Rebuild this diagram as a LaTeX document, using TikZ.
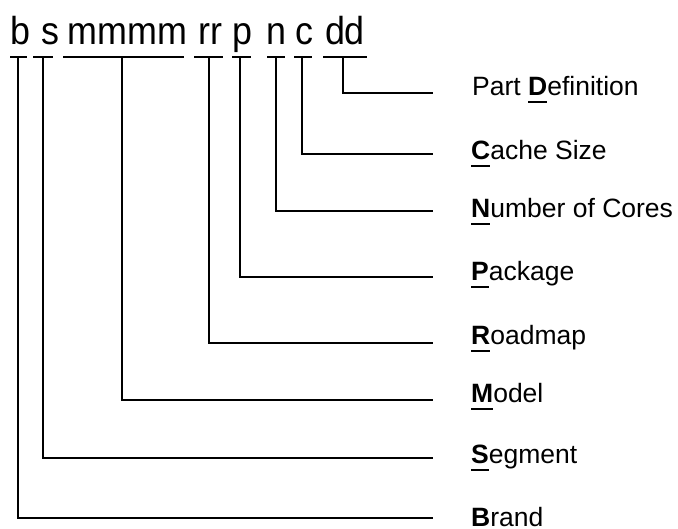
\documentclass[tikz,border=0pt]{standalone}
\usepackage{fontspec}
\setmainfont{Liberation Sans}
\newfontfamily\codefont[FakeStretch=0.92]{Liberation Sans}
\newcommand\ukey[1]{\setbox0\hbox{\bfseries #1}\rlap{\rule[-7.3pt]{\wd0}{2.4pt}}\box0}
\begin{document}
\begin{tikzpicture}[x=1pt,y=-1pt,
  code/.style={font=\codefont\fontsize{39}{42}\selectfont, inner sep=0pt, anchor=base},
  lab/.style={font=\fontsize{26.5}{30}\selectfont, inner sep=0pt, anchor=base west},
  bar/.style={line width=1.7pt},
  conn/.style={line width=1.7pt}]
\useasboundingbox (0,0) rectangle (678,529);
% top code string
\node[code] (tb) at (20.5,45) {b};
\node[code] (ts) at (50,45) {s};
\node[code] (tm) at (127.5,45) {mmmm};
\node[code] (tr) at (210.5,45) {rr};
\node[code] (tp) at (242.5,45) {p};
\node[code] (tn) at (276.5,45) {n};
\node[code] (tc) at (304,45) {c};
\node[code] (td) at (345,45) {dd};
% underline bars
\draw[bar] (10,57) -- (27,57);
\draw[bar] (33,57) -- (53,57);
\draw[bar] (63,57) -- (184,57);
\draw[bar] (194,57) -- (223,57);
\draw[bar] (232,57) -- (251,57);
\draw[bar] (267,57) -- (285,57);
\draw[bar] (294,57) -- (312,57);
\draw[bar] (323,57) -- (367,57);
% start and end coordinates
\coordinate (ub) at (18,57);   \coordinate (eb) at (433,518);
\coordinate (us) at (43,57);   \coordinate (es) at (433,458);
\coordinate (um) at (122,57);  \coordinate (em) at (433,400);
\coordinate (ur) at (209,57);  \coordinate (er) at (433,343);
\coordinate (up) at (240,57);  \coordinate (ep) at (433,277);
\coordinate (un) at (276,57);  \coordinate (en) at (433,211);
\coordinate (uc) at (302,57);  \coordinate (ec) at (433,154);
\coordinate (ud) at (343,57);  \coordinate (ed) at (433,93);
% connectors
\draw[conn] (ub) |- (eb);
\draw[conn] (us) |- (es);
\draw[conn] (um) |- (em);
\draw[conn] (ur) |- (er);
\draw[conn] (up) |- (ep);
\draw[conn] (un) |- (en);
\draw[conn] (uc) |- (ec);
\draw[conn] (ud) |- (ed);
% labels
\node[lab] (ld) at (472,96)  {Part \ukey{D}efinition};
\node[lab] (lc) at (471,160) {\ukey{C}ache Size};
\node[lab] (ln) at (471,218) {\ukey{N}umber of Cores};
\node[lab] (lp) at (471,281) {\ukey{P}ackage};
\node[lab] (lr) at (471,345) {\ukey{R}oadmap};
\node[lab] (lm) at (471,403) {\ukey{M}odel};
\node[lab] (ls) at (471,464) {\ukey{S}egment};
\node[lab] (lb) at (471,526) {\ukey{B}rand};
\end{tikzpicture}
\end{document}
